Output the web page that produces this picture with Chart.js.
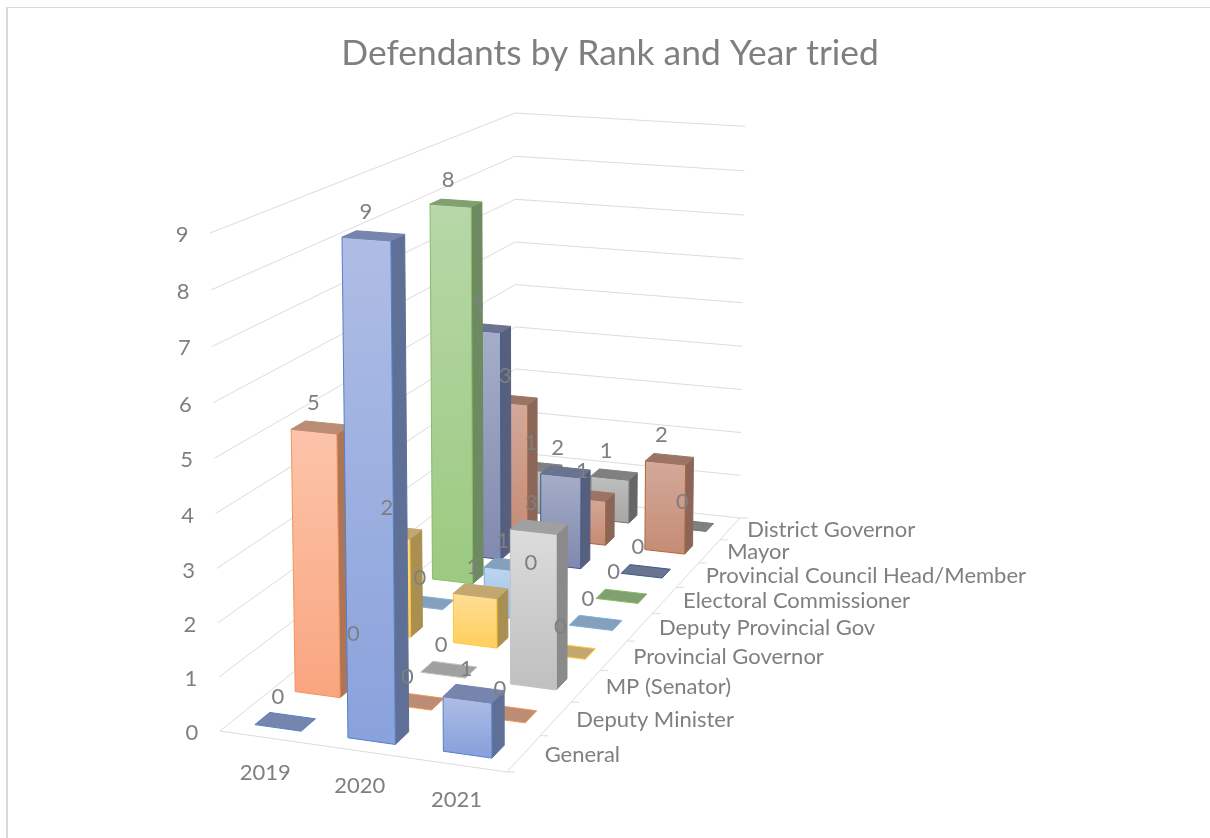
<!DOCTYPE html>
<html>
<head>
<meta charset="utf-8">
<title>Defendants by Rank and Year tried</title>
<script src="https://cdn.jsdelivr.net/npm/chart.js@4"></script>
<style>
  html, body { margin: 0; padding: 0; background: #fff; }
  #wrap { width: 1210px; height: 838px; }
</style>
</head>
<body>
<div id="wrap"><canvas id="myChart" width="1210" height="838"></canvas></div>
<script>
const years = ["2019", "2020", "2021"];
const ranks = ["General", "Deputy Minister", "MP (Senator)", "Provincial Governor", "Deputy Provincial Gov",
               "Electoral Commissioner", "Provincial Council Head/Member", "Mayor", "District Governor"];

// defendants per rank, one value per year
const general = [0, 9, 1];
const deputyMinister = [5, 0, 0];
const mpSenator = [0, 0, 3];
const provGovernor = [2, 1, 0];
const deputyProvGov = [0, 1, 0];
const electoralComm = [8, 0, 0];
const provCouncil = [5, 2, 0];
const mayor = [3, 1, 2];
const districtGov = [1, 1, 0];
const allSeries = [general, deputyMinister, mpSenator, provGovernor, deputyProvGov,
                   electoralComm, provCouncil, mayor, districtGov];

// face colours per rank: front top, front bottom, side, top, edge
const faceColors = [
  ["#aebde4", "#8aa2dc", "#5f7096", "#7585ad", "#5580cc"],
  ["#fcc4aa", "#f9a680", "#ad7455", "#bc8d75", "#f2955c"],
  ["#dcdcdc", "#c0c0c0", "#8a8a8a", "#a0a0a0", "#c4c4c4"],
  ["#ffdd95", "#ffd062", "#a98f52", "#c2a870", "#ffc833"],
  ["#bcd5ef", "#a0c5ea", "#6f8fae", "#84a0bd", "#7aafe0"],
  ["#b7d7a8", "#9cca80", "#6e8a60", "#80a070", "#86bd66"],
  ["#a5aec8", "#838ab0", "#565f7e", "#6a7390", "#3f5a8c"],
  ["#d3a99b", "#c68d76", "#8b6558", "#9c7465", "#b0653a"],
  ["#bfbfbf", "#a8a8a8", "#666666", "#808080", "#777777"]
];

const textColor = "#7f7f7f";
const gridColor = "#dcdcdc";
const labelFont = "22px Lato";

// perspective camera, maps (u along years, v up, t into depth), all 0..1, to the page
const camX = [220, 268.2, -16.4, 458.8];
const camY = [731, 12.4, -505.1, -80.5];
const camW = [1, -0.037, -0.0306, 0.3168];

function project(u, v, t) {
  const w = camW[0] + camW[1] * u + camW[2] * v + camW[3] * t;
  return [(camX[0] + camX[1] * u + camX[2] * v + camX[3] * t) / w,
          (camY[0] + camY[1] * u + camY[2] * v + camY[3] * t) / w];
}

function polygon(ctx, pts, fill, stroke) {
  ctx.beginPath();
  pts.forEach((p, n) => n ? ctx.lineTo(p[0], p[1]) : ctx.moveTo(p[0], p[1]));
  ctx.closePath();
  ctx.fillStyle = fill;
  ctx.fill();
  ctx.strokeStyle = stroke;
  ctx.lineWidth = 1;
  ctx.stroke();
}

function line(ctx, a, b) {
  ctx.beginPath();
  ctx.moveTo(a[0], a[1]);
  ctx.lineTo(b[0], b[1]);
  ctx.stroke();
}

const bars3d = {
  id: "bars3d",
  beforeDraw(chart) {
    const ctx = chart.ctx;
    ctx.save();
    ctx.fillStyle = "#fff";
    ctx.fillRect(0, 0, chart.width, chart.height);
    ctx.fillStyle = "#d9d9d9";
    ctx.fillRect(6, 7, 2, chart.height - 7);
    ctx.fillRect(6, 7, chart.width - 6, 1);
    ctx.restore();
  },
  afterDatasetsDraw(chart) {
    const ctx = chart.ctx;
    const xs = chart.scales.x, ys = chart.scales.y, zs = chart.scales.z;
    const uOf = i => (xs.getPixelForValue(i) - xs.left) / xs.width;
    const vOf = val => (ys.bottom - ys.getPixelForValue(val)) / ys.height;
    const tOf = j => (zs.getPixelForValue(j) - zs.left) / zs.width;
    const halfU = 0.25 / years.length;
    const frontT = 0.22 / ranks.length;
    const backT = 0.14 / ranks.length;

    ctx.save();

    // walls and floor
    ctx.strokeStyle = gridColor;
    ctx.lineWidth = 1;
    ys.ticks.forEach(tick => {
      const v = vOf(tick.value);
      line(ctx, project(0, v, 0), project(0, v, 1));
      line(ctx, project(0, v, 1), project(1, v, 1));
    });
    line(ctx, project(0, 0, 0), project(1, 0, 0));
    line(ctx, project(1, 0, 0), project(1, 0, 1));
    for (let k = 0; k <= ranks.length; k++) {
      const p = project(1, 0, k / ranks.length);
      line(ctx, p, [p[0] + 8, p[1]]);
    }

    // bars, back to front so the near ones cover the far ones
    for (let j = ranks.length - 1; j >= 0; j--) {
      const c = faceColors[j];
      const t0 = tOf(j) - frontT, t1 = tOf(j) + backT;
      years.forEach((year, i) => {
        const val = allSeries[j][i];
        const u0 = uOf(i) - halfU, u1 = uOf(i) + halfU;
        const v = vOf(val);
        if (val > 0) {
          const fl = project(u0, v, t0), fb = project(u0, 0, t0);
          const grad = ctx.createLinearGradient(0, fl[1], 0, fb[1]);
          grad.addColorStop(0, c[0]);
          grad.addColorStop(1, c[1]);
          polygon(ctx, [project(u1, v, t0), project(u1, v, t1), project(u1, 0, t1), project(u1, 0, t0)], c[2], c[2]);
          polygon(ctx, [fl, project(u1, v, t0), project(u1, 0, t0), fb], grad, c[4]);
        }
        polygon(ctx, [project(u0, v, t0), project(u1, v, t0), project(u1, v, t1), project(u0, v, t1)], c[3], val > 0 ? c[3] : c[4]);
      });
    }

    // text
    ctx.font = labelFont;
    ctx.fillStyle = textColor;
    ctx.textBaseline = "middle";

    ctx.textAlign = "center";
    ys.ticks.forEach(tick => {
      const p = project(0, vOf(tick.value), 0);
      ctx.fillText(tick.label, p[0] - 28, p[1] + 2);
    });
    years.forEach((year, i) => {
      const p = project(uOf(i), 0, 0);
      ctx.fillText(year, p[0] - 1, p[1] + 35);
    });

    ctx.textAlign = "left";
    ranks.forEach((rank, j) => {
      const p = project(1, 0, tOf(j));
      ctx.fillText(rank, p[0] + 21 - 4 * tOf(j), p[1] + 1);
    });

    ctx.textAlign = "center";
    allSeries.forEach((vals, j) => {
      vals.forEach((val, i) => {
        const p = project(uOf(i), vOf(val), tOf(j));
        ctx.fillText(String(val), p[0] - 9, p[1] - 23);
      });
    });

    ctx.restore();
  }
};

new Chart(document.getElementById("myChart"), {
  type: "bar",
  plugins: [bars3d],
  data: {
    labels: years,
    datasets: allSeries.map((vals, j) => ({
      label: ranks[j],
      data: vals,
      backgroundColor: "transparent",
      borderWidth: 0
    }))
  },
  options: {
    responsive: false,
    animation: false,
    events: [],
    layout: { padding: { left: 10 } },
    plugins: {
      legend: { display: false },
      tooltip: { enabled: false },
      title: {
        display: true,
        text: "Defendants by Rank and Year tried",
        color: textColor,
        font: { family: "Lato", size: 35.4, weight: "normal" },
        padding: { top: 32, bottom: 10 }
      }
    },
    scales: {
      x: { type: "category", display: false, offset: true },
      y: { type: "linear", display: false, min: 0, max: 9, ticks: { stepSize: 1 } },
      z: { type: "category", display: false, position: "bottom", offset: true, labels: ranks }
    }
  }
});
</script>
</body>
</html>
